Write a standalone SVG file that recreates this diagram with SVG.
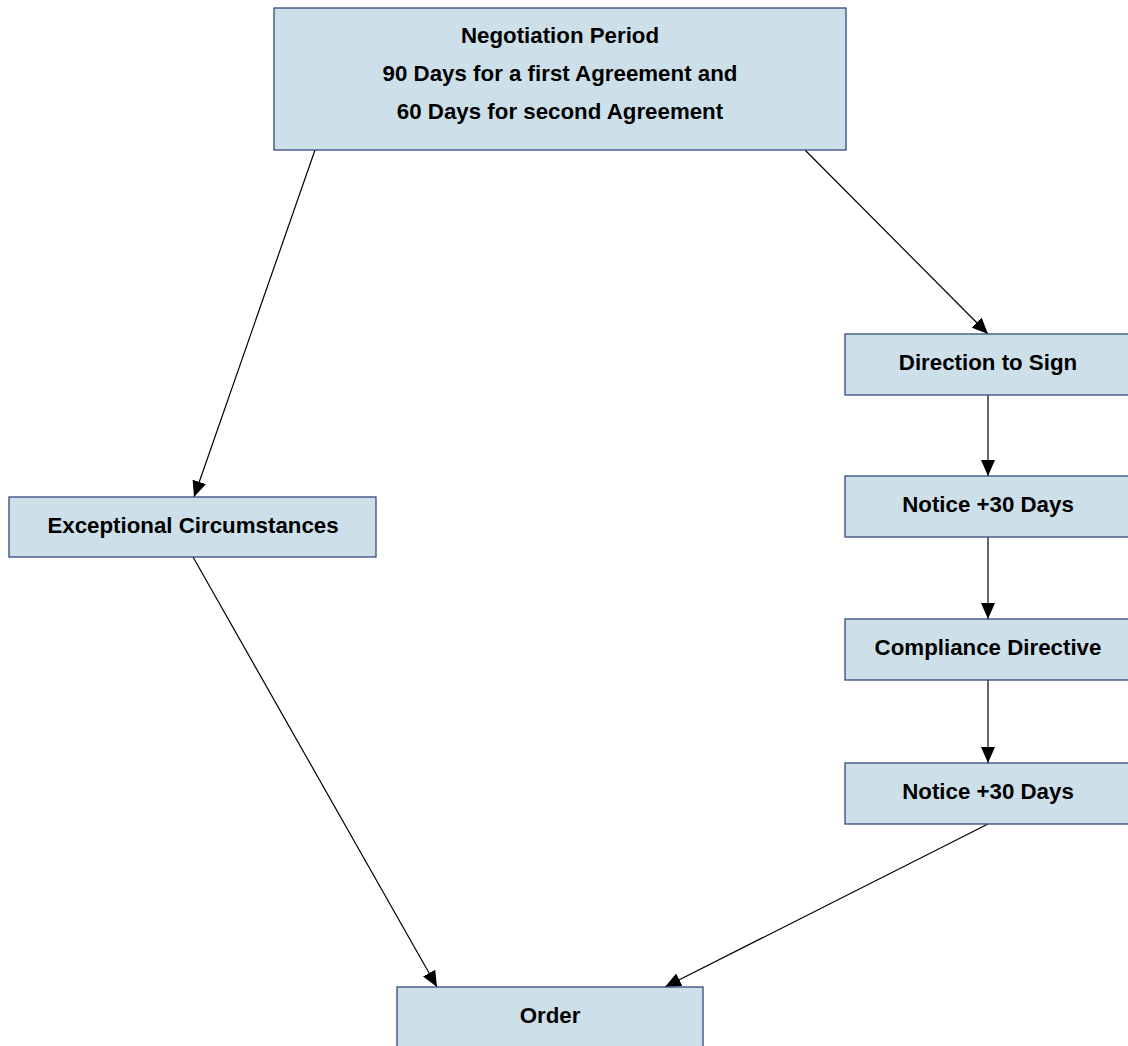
<svg xmlns="http://www.w3.org/2000/svg" width="1128" height="1046" viewBox="0 0 1128 1046">
<style>
.box{fill:#cde0ea;stroke:#34477a;stroke-width:1.3}
.t{font-family:"Liberation Sans",Arial,sans-serif;font-weight:bold;font-size:22.3px;fill:#000;text-anchor:middle}
.c{stroke:#000;stroke-width:1.2;fill:none;marker-end:url(#ah)}
</style>
<defs>
<marker id="ah" viewBox="0 0 16 14" refX="16" refY="7" markerWidth="16" markerHeight="14" markerUnits="userSpaceOnUse" orient="auto">
<path d="M0,0 L16,7 L0,14 Z" fill="#000"/>
</marker>
</defs>
<rect width="1128" height="1046" fill="#fff"/>
<g id="connectors">
<line class="c" x1="315" y1="150" x2="194" y2="497"/>
<line class="c" x1="805" y1="150" x2="988" y2="334"/>
<line class="c" x1="988" y1="395" x2="988" y2="476"/>
<line class="c" x1="988" y1="537" x2="988" y2="619"/>
<line class="c" x1="988" y1="680" x2="988" y2="763"/>
<line class="c" x1="193" y1="557" x2="437" y2="987"/>
<line class="c" x1="988" y1="824" x2="665" y2="987"/>
</g>
<g id="negotiation">
<rect class="box" x="274" y="8" width="572" height="142"/>
<text class="t" x="560" y="43">Negotiation Period</text>
<text class="t" x="560" y="81">90 Days for a first Agreement and</text>
<text class="t" x="560" y="119">60 Days for second Agreement</text>
</g>
<g id="direction">
<rect class="box" x="845" y="334" width="288" height="61"/>
<text class="t" x="988" y="370">Direction to Sign</text>
</g>
<g id="notice1">
<rect class="box" x="845" y="476" width="288" height="61"/>
<text class="t" x="988" y="512">Notice +30 Days</text>
</g>
<g id="compliance">
<rect class="box" x="845" y="619" width="288" height="61"/>
<text class="t" x="988" y="655">Compliance Directive</text>
</g>
<g id="notice2">
<rect class="box" x="845" y="763" width="288" height="61"/>
<text class="t" x="988" y="799">Notice +30 Days</text>
</g>
<g id="exceptional">
<rect class="box" x="9" y="497" width="367" height="60"/>
<text class="t" x="193" y="533">Exceptional Circumstances</text>
</g>
<g id="order">
<rect class="box" x="397" y="987" width="306" height="70"/>
<text class="t" x="550" y="1023">Order</text>
</g>
</svg>
